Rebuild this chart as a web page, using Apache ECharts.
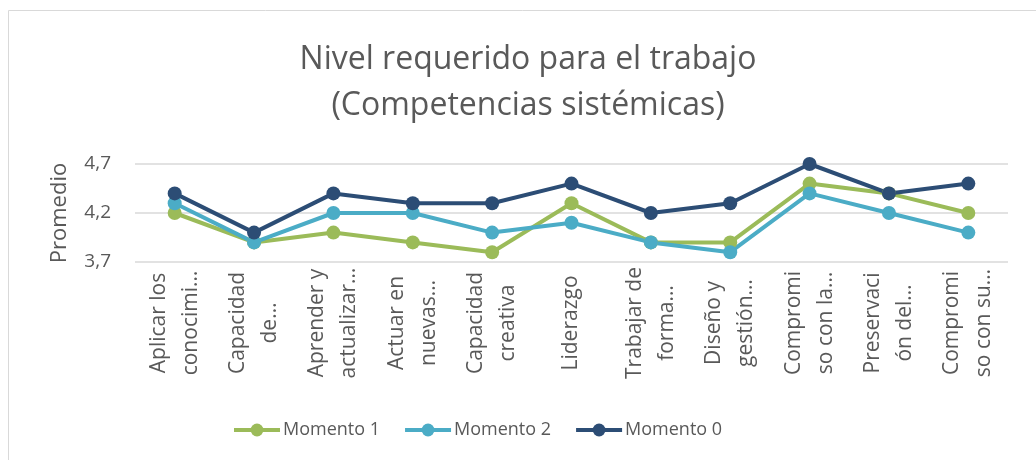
<!DOCTYPE html>
<html>
<head>
<meta charset="utf-8">
<script src="https://cdn.jsdelivr.net/npm/echarts@6/dist/echarts.min.js"></script>
<style>
  html, body { margin: 0; padding: 0; background: #fff; }
  #chart { width: 1036px; height: 460px; }
</style>
</head>
<body>
<div id="chart"></div>
<script>
// ── Data ──
const categories = [
  "Aplicar los\nconocimi…",
  "Capacidad\nde…",
  "Aprender y\nactualizar…",
  "Actuar en\nnuevas…",
  "Capacidad\ncreativa",
  "Liderazgo",
  "Trabajar de\nforma…",
  "Diseño y\ngestión…",
  "Compromi\nso con la…",
  "Preservaci\nón del…",
  "Compromi\nso con su…",
];
const momento1 = [4.2, 3.9, 4.0, 3.9, 3.8, 4.3, 3.9, 3.9, 4.5, 4.4, 4.2];
const momento2 = [4.3, 3.9, 4.2, 4.2, 4.0, 4.1, 3.9, 3.8, 4.4, 4.2, 4.0];
const momento0 = [4.4, 4.0, 4.4, 4.3, 4.3, 4.5, 4.2, 4.3, 4.7, 4.4, 4.5];
const yTicks = [3.7, 4.2, 4.7];

// ── Styles ──
const FONT = "'Open Sans', 'Noto Sans', sans-serif";
const TEXT = "#595959";
const COLORS = { m1: "#9BBB59", m2: "#4BACC6", m0: "#2C4D75" };

function lineSeries(name, data, color) {
  return {
    name,
    type: "line",
    data,
    symbol: "circle",
    symbolSize: 14,
    lineStyle: { width: 4, color },
    itemStyle: { color },
    emphasis: { disabled: true },
  };
}

const chart = echarts.init(document.getElementById("chart"), null, { renderer: "canvas" });

chart.setOption({
  animation: false,
  textStyle: { fontFamily: FONT },
  graphic: [
    {
      type: "rect",
      shape: { x: 8.5, y: 10.5, width: 1100, height: 500 },
      style: { fill: "none", stroke: "#d9d9d9", lineWidth: 1 },
      silent: true,
    },
  ],
  title: {
    text: "Nivel requerido para el trabajo\n(Competencias sistémicas)",
    left: 523,
    top: 32,
    textAlign: "center",
    textStyle: {
      fontFamily: FONT,
      fontSize: 32,
      fontWeight: "normal",
      color: TEXT,
      lineHeight: 46,
    },
  },
  legend: {
    data: ["Momento 1", "Momento 2", "Momento 0"],
    left: 227,
    top: 416,
    itemWidth: 46,
    itemHeight: 16,
    itemGap: 23,
    lineStyle: { width: 4 },
    textStyle: { fontFamily: FONT, fontSize: 18, color: TEXT, padding: [0, 0, 0, -2] },
  },
  grid: {
    left: 135,
    right: 28,
    top: 164,
    bottom: 198,
  },
  xAxis: {
    type: "category",
    data: categories,
    boundaryGap: true,
    axisLine: { show: false },
    axisTick: { show: false },
    axisLabel: {
      interval: 0,
      rotate: 90,
      align: "center",
      verticalAlign: "middle",
      margin: 61,
      fontFamily: FONT,
      fontSize: 21,
      lineHeight: 32,
      color: TEXT,
    },
  },
  yAxis: {
    type: "value",
    min: yTicks[0],
    max: yTicks[yTicks.length - 1],
    interval: 0.5,
    name: "Promedio",
    nameLocation: "middle",
    nameRotate: 90,
    nameGap: 64,
    nameTextStyle: { fontFamily: FONT, fontSize: 22, color: TEXT },
    axisLine: { show: false },
    axisTick: { show: false },
    axisLabel: {
      margin: 24,
      fontFamily: FONT,
      fontSize: 19,
      color: TEXT,
      formatter: (v) => v.toFixed(1).replace(".", ","),
    },
    splitLine: { lineStyle: { color: "#d9d9d9", width: 1.5 } },
  },
  series: [
    lineSeries("Momento 1", momento1, COLORS.m1),
    lineSeries("Momento 2", momento2, COLORS.m2),
    lineSeries("Momento 0", momento0, COLORS.m0),
  ],
});
</script>
</body>
</html>
